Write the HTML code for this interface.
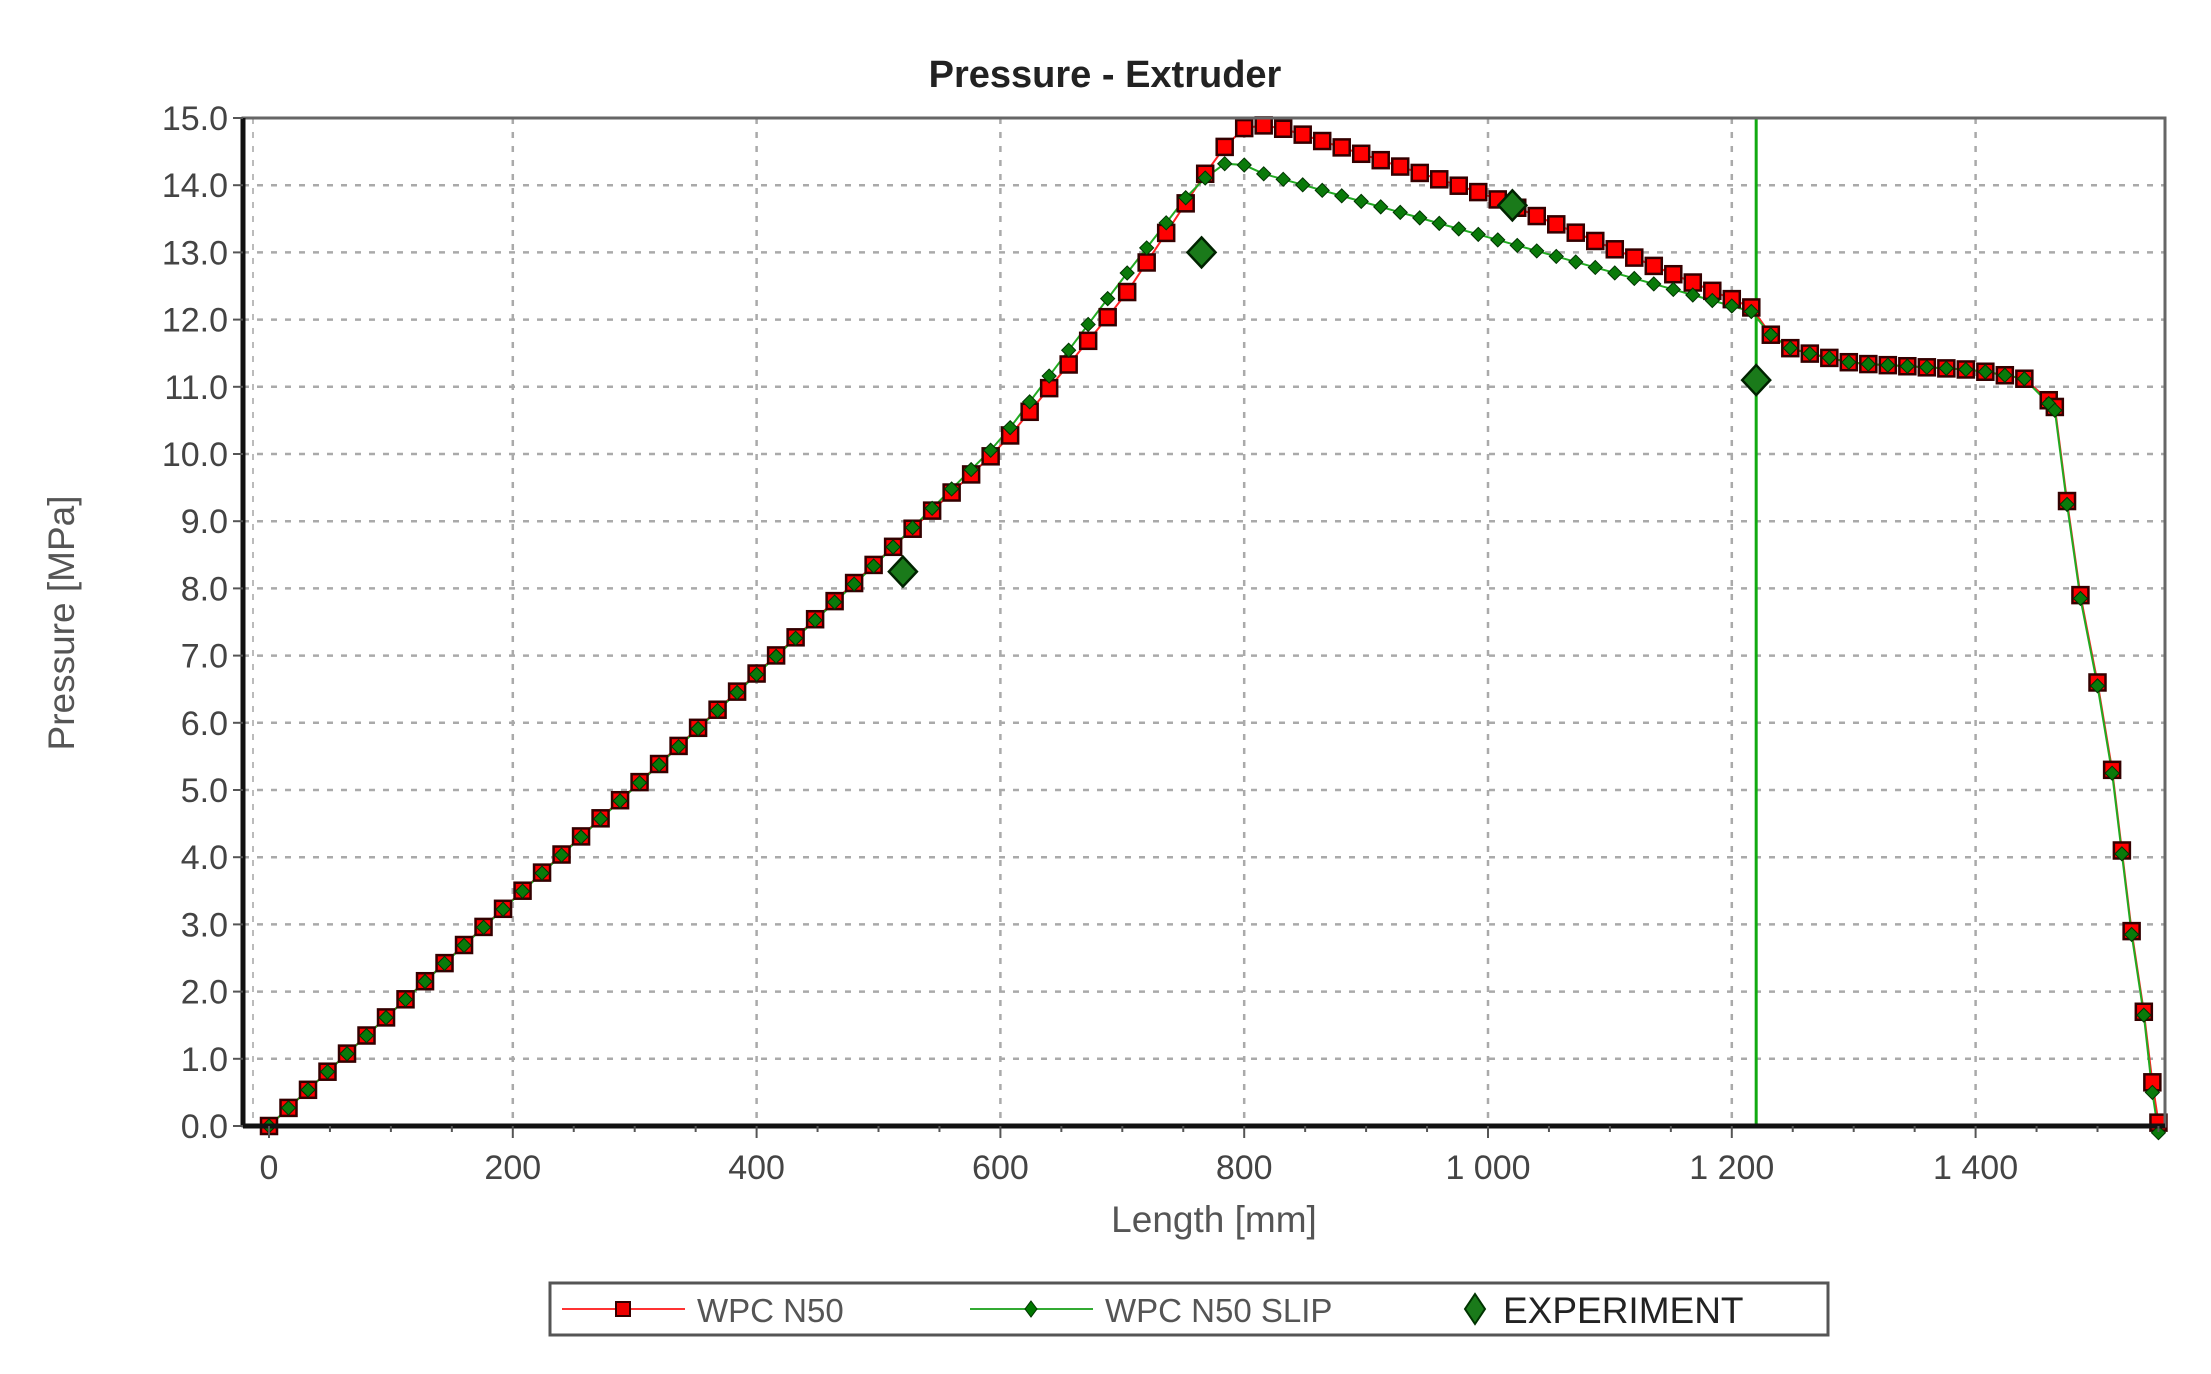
<!DOCTYPE html>
<html><head><meta charset="utf-8"><style>
html,body{margin:0;padding:0;background:#fff;}
svg{display:block;font-family:"Liberation Sans",sans-serif;}
</style></head><body>
<svg id="c" width="2211" height="1374" viewBox="0 0 2211 1374" xmlns="http://www.w3.org/2000/svg">
<text x="1105" y="87" text-anchor="middle" font-size="38" font-weight="bold" fill="#222">Pressure - Extruder</text>
<text transform="translate(74,623) rotate(-90)" text-anchor="middle" font-size="37" fill="#555">Pressure [MPa]</text>
<text x="1214" y="1232" text-anchor="middle" font-size="37" fill="#555">Length [mm]</text>
<g id="grid"></g>
<g id="data"></g>
<rect x="243" y="118" width="1922" height="1008" fill="none" stroke="#666" stroke-width="3"/>
<line x1="243" y1="118" x2="243" y2="1126" stroke="#111" stroke-width="5"/>
<line x1="243" y1="1126" x2="2165" y2="1126" stroke="#111" stroke-width="5"/>
<g id="ticks"></g>
<rect x="550" y="1283" width="1278" height="52" fill="#fff" stroke="#555" stroke-width="3"/>
<line x1="562" y1="1309" x2="685" y2="1309" stroke="#f33" stroke-width="2"/>
<rect x="616" y="1302" width="14" height="14" fill="#e00" stroke="#300" stroke-width="2"/>
<text x="697" y="1322" font-size="33" fill="#555">WPC N50</text>
<line x1="970" y1="1309" x2="1093" y2="1309" stroke="#3a3" stroke-width="2"/>
<path d="M1031 1301 L1037 1309 L1031 1317 L1025 1309Z" fill="#070" stroke="#030"/>
<text x="1105" y="1322" font-size="33" fill="#555">WPC N50 SLIP</text>
<path d="M1475 1294 L1485 1309 L1475 1324 L1465 1309Z" fill="#1a7a1a" stroke="#030" stroke-width="2"/>
<text x="1503" y="1323" font-size="37" fill="#222">EXPERIMENT</text>
</svg>
<script>
const X=v=>269+v*1.219, Y=v=>1126-v*67.2;
const ns="http://www.w3.org/2000/svg";
function el(p,t,a){const e=document.createElementNS(ns,t);for(const k in a)e.setAttribute(k,a[k]);p.appendChild(e);return e;}
const g=document.getElementById('grid'),tk=document.getElementById('ticks'),d=document.getElementById('data');
for(let v=1;v<=15;v++){el(g,'line',{x1:243,x2:2165,y1:Y(v),y2:Y(v),stroke:'#aaa','stroke-width':2.5,'stroke-dasharray':'6 8'});}
for(let v=0;v<=1400;v+=200){if(v>0)el(g,'line',{x1:X(v),x2:X(v),y1:118,y2:1126,stroke:'#aaa','stroke-width':2.5,'stroke-dasharray':'6 8'});}
el(g,'line',{x1:253,x2:253,y1:118,y2:1126,stroke:'#bbb','stroke-width':2,'stroke-dasharray':'6 8'});
for(let v=0;v<=15;v++){el(tk,'line',{x1:233,x2:243,y1:Y(v),y2:Y(v),stroke:'#555','stroke-width':2});
 const t=el(tk,'text',{x:228,y:Y(v)+12,'text-anchor':'end','font-size':34,fill:'#444'});t.textContent=v.toFixed(1);}
for(let v=0;v<=1550;v+=50){el(tk,'line',{x1:X(v),x2:X(v),y1:1126,y2:1126+(v%200==0?12:6),stroke:'#555','stroke-width':2});}
for(let v=0;v<=1400;v+=200){const t=el(tk,'text',{x:X(v),y:1179,'text-anchor':'middle','font-size':34,fill:'#444'});t.textContent=v>=1000?(Math.floor(v/1000)+' '+String(v%1000).padStart(3,'0')):v;}
const tail=[[1230,11.8],[1250,11.55],[1300,11.35],[1400,11.25],[1440,11.12],[1460,10.8]];
const drop=[[1465,10.7],[1475,9.3],[1486,7.9],[1500,6.6],[1512,5.3],[1520,4.1],[1528,2.9],[1538,1.7],[1545,0.65],[1550,0.05]];
const red=[[0,0],[600,10.1],[700,12.3],[780,14.5],[800,14.85],[820,14.9],[840,14.8],[1000,13.85],[1220,12.15]].concat(tail);
const grn=[[0,0],[500,8.4],[600,10.2],[700,12.6],[760,14.0],[790,14.4],[810,14.2],[1220,12.1]].concat(tail);
function interp(P,x){for(let i=1;i<P.length;i++){if(x<=P[i][0]){const a=P[i-1],b=P[i];return a[1]+(b[1]-a[1])*(x-a[0])/(b[0]-a[0]);}}return P[P.length-1][1];}
function pts(P){const r=[];for(let x=0;x<=1455;x+=16)r.push([x,interp(P,x)]);r.push([1460,10.8]);return r.concat(drop);}
const R=pts(red),G=pts(grn).map((p,i)=>i>=R.length-drop.length-1?[p[0],p[1]-(p[1]<1?0.15:0.05)]:p);
el(d,'line',{x1:X(1220),x2:X(1220),y1:118,y2:1126,stroke:'#1a1','stroke-width':3});
el(d,'polyline',{points:R.map(p=>X(p[0])+','+Y(p[1])).join(' '),fill:'none',stroke:'#f22','stroke-width':2});
el(d,'polyline',{points:G.map(p=>X(p[0])+','+Y(p[1])).join(' '),fill:'none',stroke:'#2a2','stroke-width':2});
R.forEach(p=>el(d,'rect',{x:X(p[0])-8,y:Y(p[1])-8,width:16,height:16,fill:'#f00',stroke:'#300','stroke-width':2.5}));
G.forEach(p=>{const x=X(p[0]),y=Y(p[1]);el(d,'path',{d:`M${x} ${y-7}L${x+7} ${y}L${x} ${y+7}L${x-7} ${y}Z`,fill:'#0a7a0a',stroke:'#030','stroke-width':1});});
[[520,8.25],[765,13.0],[1020,13.7],[1220,11.1]].forEach(p=>{const x=X(p[0]),y=Y(p[1]);el(d,'path',{d:`M${x} ${y-15}L${x+14} ${y}L${x} ${y+15}L${x-14} ${y}Z`,fill:'#1a7a1a',stroke:'#020','stroke-width':2.5});});
</script>
</body></html>
